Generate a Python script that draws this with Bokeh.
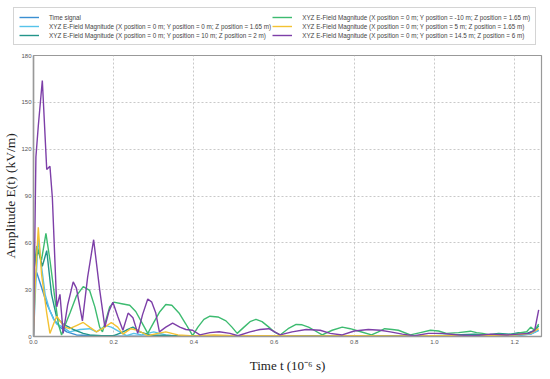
from bokeh.plotting import figure
from bokeh.layouts import column, row
from bokeh.models import Legend, LegendItem, FixedTicker, Range1d, CustomJSTickFormatter
from bokeh.embed import file_html
from bokeh.resources import INLINE

# ---- data ----
t_blue = [0.0, 0.004, 0.008, 0.02, 0.033, 0.05, 0.066, 0.083, 0.107, 0.15, 0.2, 0.4, 0.6, 0.8, 1.0, 1.2, 1.24, 1.26]
v_blue = [0, 38, 41, 31.6, 21, 11.5, 6, 3, 1, 0.5, 0.2, 0.2, 0.2, 0.2, 0.2, 0.5, 1.5, 4]

t_cyan = [0.0, 0.005, 0.012, 0.02, 0.029, 0.04, 0.05, 0.058, 0.074, 0.09, 0.116, 0.14, 0.157, 0.18, 0.194,
          0.215, 0.232, 0.25, 0.27, 0.3, 0.33, 0.35, 0.4, 0.5, 0.6, 0.7, 0.8, 0.9, 1.0, 1.1, 1.2, 1.24, 1.26]
v_cyan = [0, 30, 63, 45, 27, 17, 11, 8, 6, 3, 4.5, 5, 3, 7, 6,
          3, 0.5, 2, 1, 3, 1, 0.3, 0.5, 0.3, 0.5, 0.3, 0.3, 0.3, 0.3, 0.5, 0.8, 1.5, 4]

t_teal = [0.0, 0.005, 0.012, 0.022, 0.033, 0.045, 0.058, 0.074, 0.099, 0.124, 0.14, 0.17, 0.2, 0.215, 0.231,
          0.248, 0.265, 0.29, 0.35, 0.4, 0.5, 0.6, 0.7, 0.8, 0.9, 1.0, 1.05, 1.1, 1.13, 1.16, 1.19, 1.21,
          1.23, 1.245, 1.255, 1.26]
v_teal = [40, 50, 55, 45, 55, 27, 12, 8, 4.5, 2, 1, 0.5, 0.5, 2, 4,
          6, 3, 1, 0.5, 0.5, 0.3, 0.3, 0.5, 0.3, 0.5, 0.5, 1, 1.5, 1, 2, 1.5, 2.5,
          2, 3.5, 5, 7]

t_green = [0.0, 0.008, 0.02, 0.031, 0.041, 0.054, 0.062, 0.07, 0.08, 0.091, 0.107, 0.124, 0.14, 0.153, 0.165,
           0.172, 0.18, 0.19, 0.2, 0.22, 0.24, 0.255, 0.27, 0.285, 0.3, 0.314, 0.33, 0.345, 0.364, 0.38,
           0.397, 0.41, 0.425, 0.44, 0.46, 0.48, 0.495, 0.508, 0.525, 0.54, 0.555, 0.57, 0.587, 0.6, 0.615,
           0.635, 0.655, 0.67, 0.686, 0.7, 0.72, 0.745, 0.77, 0.79, 0.81, 0.843, 0.86, 0.876, 0.895, 0.91,
           0.94, 0.965, 0.99, 1.01, 1.03, 1.06, 1.09, 1.105, 1.12, 1.14, 1.16, 1.18, 1.2, 1.215, 1.23,
           1.24, 1.25, 1.26]
v_green = [40, 58, 49, 66, 49, 23, 8, 1, 8, 15, 26, 32, 29.5, 19, 6,
           3, 10, 19, 22, 21, 20, 16, 9, 2, 9, 15.5, 20.5, 20, 14.7, 8,
           0.5, 6, 11, 13, 12.5, 10, 6, 2, 6, 9.5, 11, 9.5, 6, 3, 1,
           5, 7.7, 7.5, 6, 4, 1, 4, 6, 5, 3.5, 1, 3, 5, 4.5, 4,
           1, 2.5, 4, 3.5, 2, 2.5, 3.4, 2.5, 2, 1, 1.5, 1, 1.5, 2.5, 3,
           6, 4, 8]

t_yellow = [0.0, 0.004, 0.012, 0.02, 0.033, 0.041, 0.05, 0.058, 0.066, 0.078, 0.09, 0.107, 0.124, 0.14, 0.157,
            0.178, 0.194, 0.21, 0.223, 0.243, 0.26, 0.285, 0.31, 0.33, 0.36, 0.4, 0.45, 0.5, 0.6, 0.7, 0.8,
            0.9, 1.0, 1.1, 1.2, 1.24, 1.26]
v_yellow = [0, 32, 70, 40, 15, 2, 8, 13, 10, 6, 5, 7, 9, 6, 3,
            6, 9, 6, 1.5, 5, 4, 0.5, 2, 3, 1, 0.3, 1, 0.5, 0.5, 0.3, 0.5,
            0.3, 0.5, 0.5, 1, 2, 5]

t_purple = [0.0, 0.006, 0.012, 0.022, 0.033, 0.041, 0.047, 0.058, 0.066, 0.074, 0.085, 0.099, 0.107, 0.122,
            0.135, 0.15, 0.165, 0.178, 0.188, 0.198, 0.21, 0.223, 0.236, 0.248, 0.26, 0.272, 0.285, 0.295,
            0.305, 0.314, 0.33, 0.347, 0.365, 0.38, 0.397, 0.415, 0.44, 0.463, 0.49, 0.51, 0.54, 0.565,
            0.587, 0.615, 0.645, 0.68, 0.715, 0.74, 0.77, 0.80, 0.835, 0.865, 0.89, 0.92, 0.95, 0.985,
            1.02, 1.06, 1.1, 1.14, 1.18, 1.21, 1.235, 1.25, 1.26]
v_purple = [0, 115, 135, 164, 107, 109, 89, 19, 27, 2, 20, 35, 31, 10,
            38, 62, 30, 6, 16, 22, 13, 4, 15, 12, 2, 14, 24, 22,
            15, 3, 6, 8.5, 6, 4.5, 4, 1, 2.5, 3, 2, 0.5, 3, 4.5,
            5, 1, 3, 4.5, 4, 2, 1, 3.5, 4.5, 4, 3, 1.5, 0.5, 2,
            2, 1, 0.5, 1.5, 1, 1.5, 2, 4, 17]

labels = [
    "Time signal",
    "XYZ E-Field Magnitude (X position = 0 m; Y position = 0 m; Z position = 1.65 m)",
    "XYZ E-Field Magnitude (X position = 0 m; Y position = 10 m; Z position = 2 m)",
    "XYZ E-Field Magnitude (X position = 0 m; Y position = -10 m; Z position = 1.65 m)",
    "XYZ E-Field Magnitude (X position = 0 m; Y position = 5 m; Z position = 1.65 m)",
    "XYZ E-Field Magnitude (X position = 0 m; Y position = 14.5 m; Z position = 6 m)",
]
colors = ["#3b8fd2", "#56c3ea", "#23958a", "#3dbb70", "#f3c232", "#7d3fa8"]
x_ticks = [0.0, 0.2, 0.4, 0.6, 0.8, 1.0, 1.2]
y_ticks = [0, 30, 60, 90, 120, 150, 180]

series = [
    (t_blue, v_blue),
    (t_cyan, v_cyan),
    (t_teal, v_teal),
    (t_green, v_green),
    (t_yellow, v_yellow),
    (t_purple, v_purple),
]

# ---- legend strip ----
lg = figure(width=550, height=50, output_backend="svg", toolbar_location=None,
            x_range=Range1d(0, 1), y_range=Range1d(0, 1),
            x_axis_location=None, y_axis_location=None,
            min_border_left=0, min_border_right=0, min_border_top=0, min_border_bottom=0)
lg.outline_line_color = None
lg.xgrid.visible = False
lg.ygrid.visible = False
lg_renderers = []
for col in colors:
    # swatch-only renderers: their points lie outside the strip's visible range
    lg_renderers.append(lg.line([5, 6], [5, 6], line_color=col, line_width=1.4))
items = [LegendItem(label=lab, renderers=[r]) for lab, r in zip(labels, lg_renderers)]
legend = Legend(items=items, nrows=3, orientation="vertical", location=(13, 5),
                label_text_font_size="6.3px", label_text_color="#444444",
                label_text_font="Liberation Sans",
                glyph_width=20, glyph_height=8, label_height=8, label_standoff=10,
                spacing=1, padding=5, margin=0,
                border_line_color="#aaaaaa", border_line_width=1,
                background_fill_alpha=1.0)
lg.add_layout(legend, "center")

# ---- main plot ----
p = figure(width=550, height=329, output_backend="svg", toolbar_location=None,
           x_range=Range1d(0, 1.267), y_range=Range1d(0, 180),
           min_border_left=30, min_border_right=9, min_border_bottom=43, min_border_top=5)

for (tx, vy), col in zip(series, colors):
    p.line(tx, vy, line_color=col, line_width=1.4)

p.outline_line_color = "#999999"
p.outline_line_width = 1.2

for ax in (p.xaxis[0], p.yaxis[0]):
    ax.major_label_text_font_size = "6px"
    ax.major_label_text_color = "#555555"
    ax.major_tick_line_color = None
    ax.minor_tick_line_color = None
    ax.major_tick_out = 0
    ax.major_tick_in = 0
    ax.minor_tick_out = 0
    ax.minor_tick_in = 0
    ax.axis_line_color = "#999999"
    ax.axis_line_width = 1.5
    ax.axis_label_text_font = "Liberation Serif"
    ax.axis_label_text_font_style = "normal"
    ax.axis_label_text_color = "#222222"

p.xaxis.major_label_standoff = 3
p.yaxis.major_label_standoff = 2
p.xaxis.ticker = FixedTicker(ticks=x_ticks)
p.yaxis.ticker = FixedTicker(ticks=y_ticks)
p.xaxis.formatter = CustomJSTickFormatter(code="return tick.toFixed(1);")
p.xaxis.axis_label = "Time t (10\u207b\u2076 s)"
p.yaxis.axis_label = "Amplitude E(t) (kV/m)"
p.xaxis.axis_label_text_font_size = "13px"
p.yaxis.axis_label_text_font_size = "13.5px"
p.xaxis.axis_label_standoff = 11
p.yaxis.axis_label_standoff = 0

p.xgrid.grid_line_color = "#bbbbbb"
p.ygrid.grid_line_color = "#bbbbbb"
p.xgrid.grid_line_dash = "2 2"
p.ygrid.grid_line_dash = "2 2"
p.xgrid.grid_line_width = 0.8
p.ygrid.grid_line_width = 0.8

layout = column(row(lg, spacing=0), p, spacing=0)
open("out.html", "w").write(file_html(layout, INLINE))
